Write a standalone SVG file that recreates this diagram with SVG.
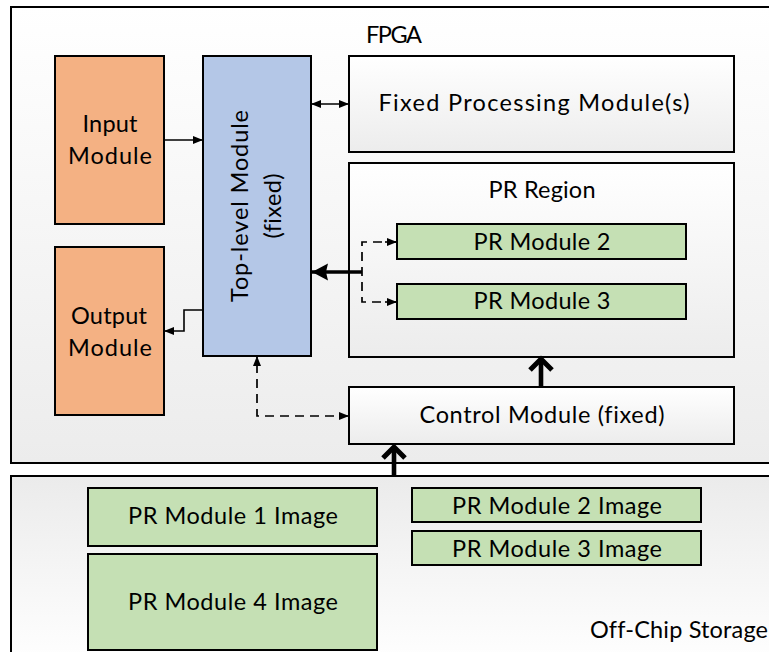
<svg xmlns="http://www.w3.org/2000/svg" width="769" height="652" viewBox="0 0 769 652">
  <defs>
    <linearGradient id="gFpga" x1="0" y1="0" x2="0" y2="1">
      <stop offset="0" stop-color="#ffffff"/>
      <stop offset="1" stop-color="#ececec"/>
    </linearGradient>
    <linearGradient id="gStore" x1="0" y1="0" x2="0" y2="1">
      <stop offset="0" stop-color="#ebebeb"/>
      <stop offset="1" stop-color="#ffffff"/>
    </linearGradient>
    <linearGradient id="gBox" x1="0" y1="0" x2="0" y2="1">
      <stop offset="0" stop-color="#ffffff"/>
      <stop offset="1" stop-color="#ececec"/>
    </linearGradient>
    <marker id="tip" markerUnits="userSpaceOnUse" markerWidth="11" markerHeight="9" refX="10" refY="4.5" orient="auto-start-reverse">
      <path d="M0,0.5 L10,4.5 L0,8.5 z" fill="#000"/>
    </marker>
    <marker id="bigTip" markerUnits="userSpaceOnUse" markerWidth="17" markerHeight="19" refX="16" refY="9.5" orient="auto">
      <path d="M0,1 L16,9.5 L0,18 L2,9.5 z" fill="#000"/>
    </marker>
  </defs>
  <style>
    .frame { stroke: #000; stroke-width: 2; }
    .box { stroke: #000; stroke-width: 2; }
    .orange { fill: #f4b183; }
    .blue { fill: #b4c7e7; }
    .green { fill: #c5e0b4; }
    .plain { fill: url(#gBox); }
    text { font-family: Lato, "Open Sans", "Liberation Sans", sans-serif; font-size: 23.5px; fill: #000; font-variant-ligatures: none; }
    .mid { text-anchor: middle; }
    .thin { stroke: #000; stroke-width: 1.6; fill: none; }
    .dash { stroke: #000; stroke-width: 1.7; fill: none; stroke-dasharray: 9 6; }
    .thick { stroke: #000; stroke-width: 3.4; fill: none; }
    .heavy { stroke: #000; stroke-width: 4.6; fill: none; }
    .chevron { stroke: #000; stroke-width: 5; fill: none; stroke-linejoin: miter; stroke-miterlimit: 6; }
  </style>

  <rect width="769" height="652" fill="#ffffff"/>

  <!-- FPGA boundary (runs off the right edge) -->
  <g id="fpga">
    <rect x="11" y="7" width="770" height="456" fill="url(#gFpga)" class="frame"/>
    <text x="394" y="43" class="mid" textLength="56">FPGA</text>
  </g>

  <!-- Off-chip storage boundary (runs off the right and bottom edges) -->
  <g id="storage">
    <rect x="11" y="476" width="770" height="190" fill="url(#gStore)" class="frame"/>
    <text x="679" y="638" class="mid" textLength="178">Off-Chip Storage</text>
  </g>

  <g id="input-module">
    <rect x="55" y="56" width="109" height="168" class="box orange"/>
    <text x="110" y="132" class="mid" textLength="55">Input</text>
    <text x="110" y="164" class="mid" textLength="84">Module</text>
  </g>

  <g id="output-module">
    <rect x="55" y="247" width="109" height="168" class="box orange"/>
    <text x="109" y="324" class="mid" textLength="76">Output</text>
    <text x="110" y="356" class="mid" textLength="84">Module</text>
  </g>

  <g id="top-level-module">
    <rect x="203" y="56" width="108" height="300" class="box blue"/>
    <text transform="translate(248,206) rotate(-90)" class="mid" textLength="192">Top-level Module</text>
    <text transform="translate(281,206) rotate(-90)" class="mid" textLength="65">(fixed)</text>
  </g>

  <g id="fixed-processing">
    <rect x="349" y="56" width="385" height="96" class="box plain"/>
    <text x="534" y="111" class="mid" textLength="311">Fixed Processing Module(s)</text>
  </g>

  <g id="pr-region">
    <rect x="349" y="163" width="385" height="194" class="box plain"/>
    <text x="542" y="198" class="mid" textLength="107">PR Region</text>
  </g>

  <g id="pr-module-2">
    <rect x="397" y="224" width="289" height="35" class="box green"/>
    <text x="542" y="250" class="mid" textLength="137">PR Module 2</text>
  </g>

  <g id="pr-module-3">
    <rect x="397" y="284" width="289" height="35" class="box green"/>
    <text x="542" y="309" class="mid" textLength="137">PR Module 3</text>
  </g>

  <g id="control-module">
    <rect x="349" y="387" width="385" height="57" class="box plain"/>
    <text x="542" y="423" class="mid" textLength="245">Control Module (fixed)</text>
  </g>

  <g id="pr-image-1">
    <rect x="88" y="488" width="289" height="58" class="box green"/>
    <text x="233" y="524" class="mid" textLength="210">PR Module 1 Image</text>
  </g>

  <g id="pr-image-4">
    <rect x="88" y="554" width="289" height="96" class="box green"/>
    <text x="233" y="610" class="mid" textLength="210">PR Module 4 Image</text>
  </g>

  <g id="pr-image-2">
    <rect x="412" y="488" width="289" height="34" class="box green"/>
    <text x="557" y="514" class="mid" textLength="210">PR Module 2 Image</text>
  </g>

  <g id="pr-image-3">
    <rect x="412" y="531" width="289" height="34" class="box green"/>
    <text x="557" y="557" class="mid" textLength="210">PR Module 3 Image</text>
  </g>

  <g id="connectors">
    <!-- input to top-level -->
    <path d="M164,140 H203" class="thin" marker-end="url(#tip)"/>
    <!-- top-level to fixed processing, both ways -->
    <path d="M311,104 H349" class="thin" marker-start="url(#tip)" marker-end="url(#tip)"/>
    <!-- top-level to output -->
    <path d="M203,310 H184 V331 H164" class="thin" marker-end="url(#tip)"/>
    <!-- PR modules back to top-level -->
    <path d="M362,272 H312" class="thick" marker-end="url(#bigTip)"/>
    <path d="M397,242 H362 V302 H397" class="dash"/>
    <path d="M385,242 H397" class="thin" marker-end="url(#tip)"/>
    <path d="M385,302 H397" class="thin" marker-end="url(#tip)"/>
    <!-- control and top-level, dashed both ways -->
    <path d="M349,416 H257 V356" class="dash" marker-start="url(#tip)" marker-end="url(#tip)"/>
    <!-- control to PR region -->
    <path d="M541,387 V362" class="heavy"/>
    <path d="M530,370 L541,359 L552,370" class="chevron"/>
    <!-- storage to control -->
    <path d="M394,475 V450" class="heavy"/>
    <path d="M383,458 L394,447 L405,458" class="chevron"/>
  </g>
</svg>
